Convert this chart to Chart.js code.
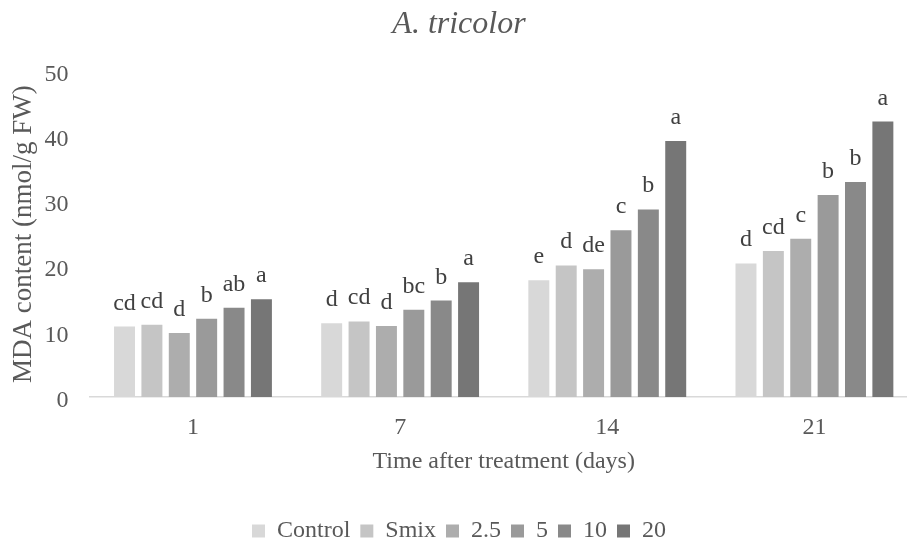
<!DOCTYPE html>
<html>
<head>
<meta charset="utf-8">
<script src="https://cdn.jsdelivr.net/npm/chart.js@4/dist/chart.umd.min.js"></script>
<style>
  body { margin: 0; width: 907px; height: 538px; overflow: hidden; background: #fff; }
  #wrap { width: 926px; height: 553px; }
</style>
</head>
<body>
<div id="wrap"><canvas id="mdaChart" width="926" height="553"></canvas></div>
<script>
const days = ['1', '7', '14', '21'];
const treatments = ['Control', 'Smix', '2.5', '5', '10', '20'];

// MDA content (nmol/g FW) per treatment, one value per day
const control = [10.8, 11.3, 17.9, 20.5];
const smix = [11.1, 11.6, 20.2, 22.4];
const dose2_5 = [9.8, 10.9, 19.6, 24.3];
const dose5 = [12.0, 13.4, 25.6, 31.0];
const dose10 = [13.7, 14.8, 28.8, 33.0];
const dose20 = [15.0, 17.6, 39.3, 42.3];

// significance letters drawn above each bar
const letControl = ['cd', 'd', 'e', 'd'];
const letSmix = ['cd', 'cd', 'd', 'cd'];
const let2_5 = ['d', 'd', 'de', 'c'];
const let5 = ['b', 'bc', 'c', 'b'];
const let10 = ['ab', 'b', 'b', 'b'];
const let20 = ['a', 'a', 'a', 'a'];

const yTicks = [0, 10, 20, 30, 40, 50];

const series = [control, smix, dose2_5, dose5, dose10, dose20];
const letters = [letControl, letSmix, let2_5, let5, let10, let20];
const colors = ['#d8d8d8', '#c5c5c5', '#adadad', '#9a9a9a', '#898989', '#767676'];

const serif = 'Liberation Serif, Times New Roman, serif';
const grayText = '#595959';

// letters sit ~17px above the top of their bar
const lettersPlugin = {
  id: 'letters',
  afterDatasetsDraw(chart) {
    const { ctx } = chart;
    ctx.save();
    ctx.font = `24px ${serif}`;
    ctx.fillStyle = '#404040';
    ctx.textAlign = 'center';
    ctx.textBaseline = 'alphabetic';
    chart.data.datasets.forEach((ds, i) => {
      chart.getDatasetMeta(i).data.forEach((bar, j) => {
        ctx.fillText(letters[i][j], bar.x, bar.y - 17);
      });
    });
    ctx.restore();
  }
};

new Chart(document.getElementById('mdaChart'), {
  type: 'bar',
  data: {
    labels: days,
    datasets: treatments.map((t, i) => ({
      label: t,
      data: series[i],
      backgroundColor: colors[i],
      borderWidth: 0,
      categoryPercentage: 0.793,
      barPercentage: 0.766
    }))
  },
  options: {
    responsive: false,
    animation: false,
    layout: { padding: { left: 0, right: 8, top: 0, bottom: 0 } },
    plugins: {
      title: {
        display: true,
        text: 'A. tricolor',
        color: grayText,
        font: { family: serif, size: 32, style: 'italic', weight: 'normal' },
        padding: { top: 5, bottom: 28 }
      },
      legend: {
        position: 'bottom',
        labels: {
          color: grayText,
          font: { family: serif, size: 24 },
          boxWidth: 13,
          boxHeight: 13,
          padding: 10
        }
      },
      tooltip: { enabled: false }
    },
    scales: {
      x: {
        grid: { display: false, drawTicks: false },
        border: { display: true, color: '#d9d9d9', width: 1.5 },
        ticks: { color: grayText, font: { family: serif, size: 24 }, padding: 16.5 },
        title: {
          display: true,
          text: 'Time after treatment (days)',
          color: grayText,
          font: { family: serif, size: 24 },
          // negative top pulls the title up against the tick labels
          padding: { top: -11, bottom: 32.5 }
        }
      },
      y: {
        min: 0,
        max: 50,
        afterBuildTicks: (axis) => { axis.ticks = yTicks.map(v => ({ value: v })); },
        grid: { display: false, drawTicks: false },
        border: { display: false },
        ticks: { color: grayText, font: { family: serif, size: 24 }, padding: 21, labelOffset: 3.5 },
        title: {
          display: true,
          text: 'MDA content (nmol/g FW)',
          color: grayText,
          font: { family: serif, size: 27 },
          padding: { top: 8, bottom: -17 }
        }
      }
    }
  },
  plugins: [lettersPlugin]
});
</script>
</body>
</html>
